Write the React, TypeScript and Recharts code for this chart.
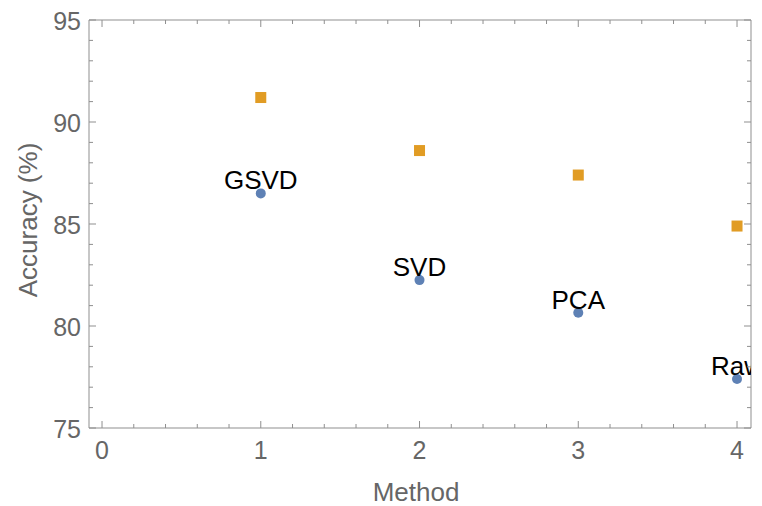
import { ScatterChart, Scatter, XAxis, YAxis, Label } from "recharts";

const methods = ["GSVD", "SVD", "PCA", "Raw"];
const methodIndex = [1, 2, 3, 4];
const lowerAccuracy = [86.5, 82.25, 80.65, 77.4];
const upperAccuracy = [91.2, 88.6, 87.4, 84.9];

const xMajorTicks = [0, 1, 2, 3, 4];
const xAllTicks = [
  0, 0.2, 0.4, 0.6, 0.8, 1, 1.2, 1.4, 1.6, 1.8, 2, 2.2, 2.4, 2.6, 2.8, 3, 3.2,
  3.4, 3.6, 3.8, 4,
];
const yMajorTicks = [75, 80, 85, 90, 95];
const yAllTicks = [
  75, 76, 77, 78, 79, 80, 81, 82, 83, 84, 85, 86, 87, 88, 89, 90, 91, 92, 93,
  94, 95,
];

const labeled = methods.map((name, i) => ({
  name,
  x: methodIndex[i],
  y: lowerAccuracy[i],
}));
const squares = methods.map((name, i) => ({
  name,
  x: methodIndex[i],
  y: upperAccuracy[i],
}));

const FRAME = "#8f8f8f";
const TEXT_GRAY = "#666666";
const FONT = "'Liberation Sans', Arial, sans-serif";

const isMajor = (list: number[], v: number) =>
  list.some((m) => Math.abs(m - v) < 1e-6);

const BottomTick = (props: any) => {
  const { x, y, payload } = props;
  const major = isMajor(xMajorTicks, payload.value);
  return (
    <g>
      <line x1={x} y1={y} x2={x} y2={y - (major ? 7 : 4)} stroke={FRAME} />
      {major && (
        <text
          x={x}
          y={y + 31}
          textAnchor="middle"
          fill={TEXT_GRAY}
          fontSize={25}
          fontFamily={FONT}
        >
          {payload.value}
        </text>
      )}
    </g>
  );
};

const TopTick = (props: any) => {
  const { x, y, payload } = props;
  const major = isMajor(xMajorTicks, payload.value);
  return <line x1={x} y1={y} x2={x} y2={y + (major ? 7 : 4)} stroke={FRAME} />;
};

const LeftTick = (props: any) => {
  const { x, y, payload } = props;
  const major = isMajor(yMajorTicks, payload.value);
  return (
    <g>
      <line x1={x} y1={y} x2={x + (major ? 7 : 4)} y2={y} stroke={FRAME} />
      {major && (
        <text
          x={x - 8}
          y={y + 10}
          textAnchor="end"
          fill={TEXT_GRAY}
          fontSize={25}
          fontFamily={FONT}
        >
          {payload.value}
        </text>
      )}
    </g>
  );
};

const RightTick = (props: any) => {
  const { x, y, payload } = props;
  const major = isMajor(yMajorTicks, payload.value);
  return <line x1={x} y1={y} x2={x - (major ? 7 : 4)} y2={y} stroke={FRAME} />;
};

const LabeledDot = (props: any) => {
  const { cx, cy, payload } = props;
  return (
    <g>
      <circle cx={cx} cy={cy} r={5} fill="#5e81b5" />
      <text
        x={cx}
        y={cy - 4}
        textAnchor="middle"
        fill="#000"
        fontSize={26}
        fontFamily={FONT}
      >
        {payload.name}
      </text>
    </g>
  );
};

const SquareDot = (props: any) => {
  const { cx, cy } = props;
  return <rect x={cx - 5.5} y={cy - 5.5} width={11} height={11} fill="#e19c24" />;
};

export default function App() {
  return (
    <div style={{ position: "absolute", left: 0, top: 0 }}>
      <ScatterChart
        width={762}
        height={506}
        margin={{ top: 19, right: 10, bottom: 0, left: 0 }}
      >
        <XAxis
          xAxisId={0}
          type="number"
          dataKey="x"
          domain={[-0.082, 4.088]}
          ticks={xAllTicks}
          interval={0}
          allowDataOverflow
          height={78}
          stroke={FRAME}
          tickSize={0}
          tickMargin={0}
          tickLine={false}
          tick={<BottomTick />}
        >
          <Label
            content={(p: any) => {
              const vb = p.viewBox;
              return (
                <text
                  x={vb.x + vb.width / 2 - 4}
                  y={501}
                  textAnchor="middle"
                  fill={TEXT_GRAY}
                  fontSize={26}
                  fontFamily={FONT}
                >
                  Method
                </text>
              );
            }}
          />
        </XAxis>
        <XAxis
          xAxisId="top"
          orientation="top"
          type="number"
          dataKey="x"
          domain={[-0.082, 4.088]}
          ticks={xAllTicks}
          interval={0}
          allowDataOverflow
          height={1}
          stroke={FRAME}
          tickSize={0}
          tickMargin={0}
          tickLine={false}
          tick={<TopTick />}
        />
        <YAxis
          yAxisId={0}
          type="number"
          dataKey="y"
          domain={[75, 95]}
          ticks={yAllTicks}
          interval={0}
          allowDataOverflow
          width={89}
          stroke={FRAME}
          tickSize={0}
          tickMargin={0}
          tickLine={false}
          tick={<LeftTick />}
        >
          <Label
            content={(p: any) => {
              const vb = p.viewBox;
              const cx = 28;
              const cy = vb.y + vb.height / 2 - 4;
              return (
                <text
                  x={cx}
                  y={cy}
                  transform={`rotate(-90 ${cx} ${cy})`}
                  textAnchor="middle"
                  dominantBaseline="central"
                  fill={TEXT_GRAY}
                  fontSize={26}
                  fontFamily={FONT}
                >
                  Accuracy (%)
                </text>
              );
            }}
          />
        </YAxis>
        <YAxis
          yAxisId="right"
          orientation="right"
          type="number"
          dataKey="y"
          domain={[75, 95]}
          ticks={yAllTicks}
          interval={0}
          allowDataOverflow
          width={1}
          stroke={FRAME}
          tickSize={0}
          tickMargin={0}
          tickLine={false}
          tick={<RightTick />}
        />
        <Scatter
          data={squares}
          xAxisId={0}
          yAxisId={0}
          shape={<SquareDot />}
          isAnimationActive={false}
        />
        <Scatter
          data={labeled}
          xAxisId={0}
          yAxisId={0}
          shape={<LabeledDot />}
          isAnimationActive={false}
        />
      </ScatterChart>
    </div>
  );
}
